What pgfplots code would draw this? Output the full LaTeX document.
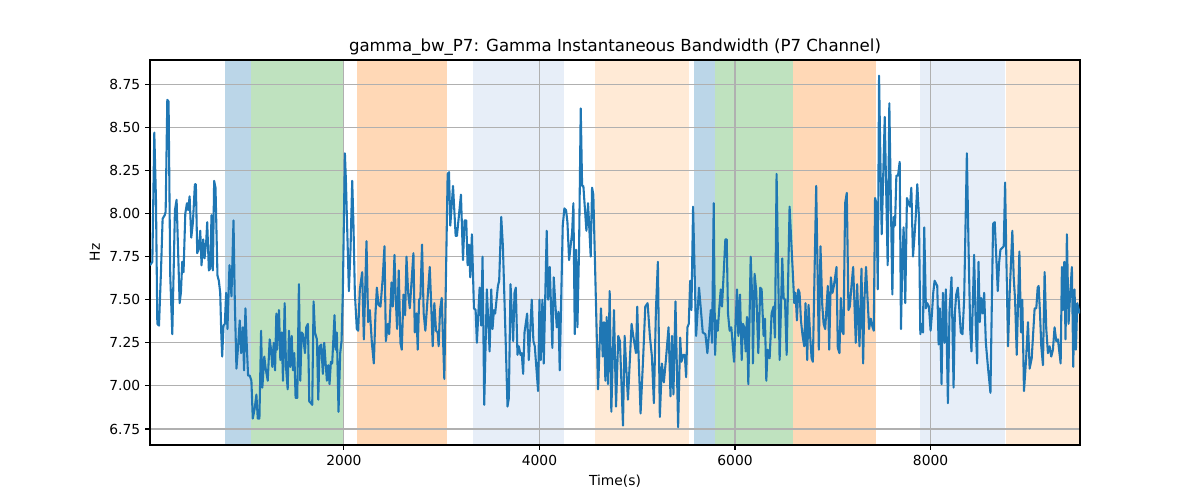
\documentclass[border=0pt]{standalone}
\usepackage{pgfplots}
\usepackage{pgfplotstable}
\pgfplotsset{compat=1.18}
\usepackage{fontspec}
\setmainfont{DejaVu Sans}
\definecolor{cblue}{HTML}{1F77B4}
\definecolor{cgreen}{HTML}{2CA02C}
\definecolor{corange}{HTML}{FF7F0E}
\definecolor{clblue}{HTML}{AEC7E8}
\definecolor{clorange}{HTML}{FFBB78}
\definecolor{gridgray}{HTML}{B0B0B0}
\pgfplotstableread{
x y
17 7.70
41 7.72
61 8.47
78 8.08
92 7.36
109 7.35
129 7.66
146 7.97
167 7.99
177 8.01
194 8.66
207 8.65
224 7.64
245 7.30
272 8.02
289 8.08
306 7.75
320 7.48
333 7.54
347 7.72
360 7.66
378 8.00
395 8.06
408 8.02
422 8.10
439 7.86
456 7.95
476 8.17
486 8.17
500 7.77
517 7.80
531 7.90
544 7.70
561 7.85
575 7.74
592 7.84
602 7.95
619 7.67
633 7.68
646 7.99
660 7.67
673 8.19
687 8.15
707 7.64
721 7.61
735 7.54
745 7.32
755 7.17
769 7.35
782 7.36
796 7.54
809 7.33
830 7.70
850 7.52
871 7.96
884 7.50
901 7.10
918 7.23
935 7.38
949 7.19
966 7.34
979 7.09
993 7.45
1007 7.23
1020 7.06
1037 7.06
1054 7.03
1068 6.81
1088 6.87
1105 6.95
1119 6.81
1136 6.81
1153 7.32
1166 6.99
1186 7.17
1200 7.10
1221 7.03
1241 7.27
1255 7.21
1268 7.11
1282 7.25
1296 7.09
1309 7.42
1316 7.21
1336 7.44
1350 7.15
1364 7.31
1377 7.03
1394 7.48
1408 7.11
1425 6.98
1438 7.32
1452 7.11
1466 7.29
1479 7.09
1493 7.19
1506 6.93
1523 6.93
1540 7.59
1554 7.03
1568 7.31
1581 7.30
1602 7.19
1615 7.34
1632 7.36
1646 6.91
1663 6.90
1676 6.89
1690 7.49
1704 7.31
1724 7.27
1738 6.92
1751 7.23
1768 7.24
1785 7.07
1799 7.25
1812 7.14
1826 7.03
1840 7.12
1853 7.01
1867 7.14
1880 7.13
1904 7.41
1915 7.21
1928 7.31
1945 6.85
1962 7.19
1976 7.26
1989 7.54
2010 8.35
2020 8.20
2051 7.55
2068 7.80
2085 8.19
2098 7.93
2112 7.54
2132 7.33
2146 7.32
2163 7.56
2187 7.66
2204 7.27
2231 7.84
2248 7.37
2265 7.44
2286 7.25
2306 7.13
2323 7.42
2337 7.57
2354 7.47
2374 7.46
2395 7.61
2415 7.81
2429 7.26
2449 7.36
2463 7.30
2487 7.60
2500 7.46
2517 7.76
2531 7.50
2544 7.33
2561 7.67
2578 7.25
2592 7.21
2609 7.53
2626 7.41
2640 7.75
2657 7.54
2674 7.45
2711 7.77
2725 7.31
2742 7.42
2755 7.21
2769 7.50
2782 7.51
2799 7.82
2816 7.42
2833 7.32
2850 7.46
2878 7.69
2891 7.50
2908 7.23
2925 7.48
2942 7.32
2959 7.31
2969 7.23
2983 7.44
3000 7.51
3027 7.04
3041 7.54
3061 8.23
3075 8.24
3088 7.93
3116 8.16
3143 7.87
3156 7.87
3197 8.11
3218 7.73
3234 7.96
3251 7.96
3265 7.70
3279 7.82
3292 7.63
3309 7.88
3330 7.45
3347 7.44
3360 7.25
3388 7.57
3404 7.35
3418 7.75
3435 6.89
3462 7.56
3490 7.20
3507 7.56
3520 7.33
3534 7.44
3547 7.42
3575 7.58
3588 7.61
3609 7.98
3626 7.81
3656 7.23
3673 6.88
3687 6.93
3704 7.59
3731 7.26
3745 7.54
3758 7.57
3775 7.18
3789 7.23
3806 7.18
3819 7.19
3833 7.07
3847 7.31
3874 7.42
3891 7.15
3921 7.50
3938 7.26
3952 7.23
3986 6.97
4000 7.50
4013 7.15
4030 7.50
4044 7.13
4074 7.90
4088 7.50
4105 7.69
4132 7.22
4146 7.63
4177 7.34
4194 7.43
4207 7.09
4238 7.93
4255 8.03
4272 8.02
4286 7.95
4303 7.73
4334 7.89
4347 8.06
4361 7.30
4374 7.79
4388 7.34
4405 7.80
4422 8.61
4436 8.16
4449 8.16
4480 7.90
4497 8.06
4524 7.75
4538 8.15
4551 8.11
4599 6.98
4629 7.45
4647 7.17
4660 7.37
4674 7.03
4687 7.40
4701 7.01
4718 7.55
4735 6.85
4762 7.44
4783 6.88
4806 7.29
4823 7.26
4854 6.77
4871 7.29
4885 7.13
4905 6.92
4942 7.36
4959 7.29
4987 7.19
5000 7.46
5014 7.17
5034 6.84
5061 7.17
5082 7.46
5106 7.48
5129 7.29
5150 7.17
5170 6.90
5191 7.44
5211 7.72
5231 6.82
5252 7.13
5272 7.02
5293 7.15
5320 7.34
5340 6.94
5355 7.29
5370 6.95
5391 7.49
5418 6.76
5439 7.28
5452 7.14
5469 7.18
5486 7.18
5500 7.05
5513 7.34
5527 7.36
5541 7.61
5554 7.44
5571 8.04
5602 7.29
5632 7.57
5670 7.31
5697 7.30
5717 7.19
5735 7.31
5752 7.44
5765 7.25
5782 8.06
5796 7.18
5809 7.38
5823 7.32
5840 7.46
5854 7.56
5867 7.46
5901 7.85
5915 7.85
5928 7.42
5945 7.32
5962 7.34
5990 7.14
6020 7.56
6034 7.29
6051 7.53
6068 7.15
6081 7.36
6095 7.34
6109 7.20
6122 7.40
6136 7.01
6160 7.75
6177 7.49
6183 7.13
6200 7.65
6217 7.55
6238 7.19
6258 7.57
6272 7.56
6292 7.29
6306 7.39
6320 7.03
6333 7.21
6354 7.16
6374 7.42
6394 7.46
6408 7.28
6425 8.23
6456 7.15
6483 7.74
6497 7.51
6511 7.50
6528 7.18
6558 8.04
6575 7.84
6606 7.48
6619 7.54
6633 7.38
6647 7.56
6660 7.54
6674 7.38
6691 7.29
6708 7.23
6721 7.48
6738 7.15
6752 7.47
6769 7.28
6783 7.16
6796 7.14
6830 8.16
6857 7.21
6874 7.81
6892 7.47
6906 7.36
6922 7.33
6949 7.58
6963 7.21
6980 7.63
6997 7.54
7011 7.58
7038 7.69
7051 7.22
7068 7.19
7082 7.51
7096 7.32
7109 7.30
7126 8.06
7143 8.12
7160 7.44
7174 7.46
7191 7.58
7208 7.69
7235 7.25
7249 7.59
7262 7.37
7273 7.23
7293 7.68
7310 7.13
7323 7.50
7340 7.69
7354 7.52
7371 7.33
7388 7.39
7402 7.35
7419 7.32
7432 8.09
7446 8.06
7460 7.56
7473 8.80
7487 8.30
7500 7.88
7531 8.56
7561 7.70
7578 8.64
7609 7.53
7622 7.98
7636 7.93
7650 8.22
7667 8.22
7684 8.30
7697 7.33
7711 7.73
7724 7.92
7741 7.48
7758 8.09
7775 8.06
7789 8.04
7803 8.15
7820 7.75
7833 7.85
7847 7.97
7864 8.17
7881 7.98
7895 7.30
7908 7.36
7922 7.31
7935 7.92
7952 7.45
7966 7.48
7983 7.46
8000 7.32
8014 7.42
8027 7.54
8041 7.61
8068 7.58
8082 7.24
8095 7.45
8112 7.01
8126 7.54
8143 7.25
8156 7.56
8177 6.90
8194 7.44
8214 7.63
8235 6.99
8248 7.42
8262 7.53
8279 7.57
8309 7.31
8326 7.30
8343 7.50
8371 8.35
8388 7.81
8405 7.33
8418 7.20
8432 7.48
8445 7.76
8462 7.35
8476 7.13
8490 7.72
8503 7.37
8517 7.51
8534 7.42
8548 7.54
8565 7.25
8588 7.10
8612 6.96
8639 7.94
8656 7.95
8687 7.55
8700 7.71
8714 7.79
8731 7.80
8748 7.81
8762 8.18
8775 7.73
8792 7.23
8809 7.54
8836 7.90
8850 7.63
8864 7.50
8881 7.18
8908 7.78
8925 7.31
8938 7.50
8955 6.97
8976 7.15
8996 7.37
9013 7.10
9034 7.16
9064 7.45
9081 7.45
9095 7.57
9105 7.58
9119 7.42
9132 7.23
9149 7.12
9166 7.66
9183 7.33
9200 7.19
9217 7.23
9234 7.17
9251 7.21
9268 7.34
9285 7.26
9302 7.27
9330 7.13
9343 7.69
9353 7.44
9367 7.72
9380 7.27
9394 7.88
9411 7.36
9428 7.54
9445 7.69
9459 7.11
9472 7.56
9486 7.21
9500 7.48
9525 7.42
}\datatable
\begin{document}
\begin{tikzpicture}
\path (0,0) rectangle (12in,5in);
\begin{axis}[
  at={(1.5in,0.55in)}, anchor=south west,
  width=9.3in, height=3.85in, scale only axis,
  xmin=17, xmax=9528, ymin=6.657, ymax=8.891,
  set layers,
  axis line style={line width=0.8bp},
  grid=major,
  major grid style={color=gridgray, line width=0.8bp},
  xtick={2000,4000,6000,8000},
  ytick={6.75,7.00,7.25,7.50,7.75,8.00,8.25,8.50,8.75},
  xtick pos=left, ytick pos=left,
  tick align=outside,
  major tick length=3.5bp,
  tick style={black, line width=0.8bp},
  /pgf/number format/assume math mode=true,
  xticklabel style={/pgf/number format/1000 sep={}},
  yticklabel style={/pgf/number format/fixed, /pgf/number format/fixed zerofill, /pgf/number format/precision=2},
  ticklabel style={font=\fontsize{10}{12}\selectfont},
  xlabel={Time(s)}, ylabel={Hz},
  label style={font=\fontsize{10}{12}\selectfont},
  title={gamma\_bw\_P7: Gamma Instantaneous Bandwidth (P7 Channel)},
  title style={font=\fontsize{12}{14}\selectfont, yshift=-6.5pt},
]
\addplot[fill=cblue, fill opacity=0.3, draw=none, on layer=axis background] coordinates {(784,6.657) (784,8.891) (1054,8.891) (1054,6.657)};
\addplot[fill=cgreen, fill opacity=0.3, draw=none, on layer=axis background] coordinates {(1054,6.657) (1054,8.891) (2000,8.891) (2000,6.657)};
\addplot[fill=corange, fill opacity=0.3, draw=none, on layer=axis background] coordinates {(2130,6.657) (2130,8.891) (3057,8.891) (3057,6.657)};
\addplot[fill=clblue, fill opacity=0.3, draw=none, on layer=axis background] coordinates {(3316,6.657) (3316,8.891) (4253,8.891) (4253,6.657)};
\addplot[fill=clorange, fill opacity=0.3, draw=none, on layer=axis background] coordinates {(4563,6.657) (4563,8.891) (5531,8.891) (5531,6.657)};
\addplot[fill=cblue, fill opacity=0.3, draw=none, on layer=axis background] coordinates {(5585,6.657) (5585,8.891) (5793,8.891) (5793,6.657)};
\addplot[fill=cgreen, fill opacity=0.3, draw=none, on layer=axis background] coordinates {(5793,6.657) (5793,8.891) (6590,8.891) (6590,6.657)};
\addplot[fill=corange, fill opacity=0.3, draw=none, on layer=axis background] coordinates {(6594,6.657) (6594,8.891) (7443,8.891) (7443,6.657)};
\addplot[fill=clblue, fill opacity=0.3, draw=none, on layer=axis background] coordinates {(7895,6.657) (7895,8.891) (8757,8.891) (8757,6.657)};
\addplot[fill=clorange, fill opacity=0.3, draw=none, on layer=axis background] coordinates {(8774,6.657) (8774,8.891) (9528,8.891) (9528,6.657)};
\addplot[color=cblue, line width=1.5bp, mark=none, line join=round] table[x=x, y=y] {\datatable};
\end{axis}
\end{tikzpicture}
\end{document}
